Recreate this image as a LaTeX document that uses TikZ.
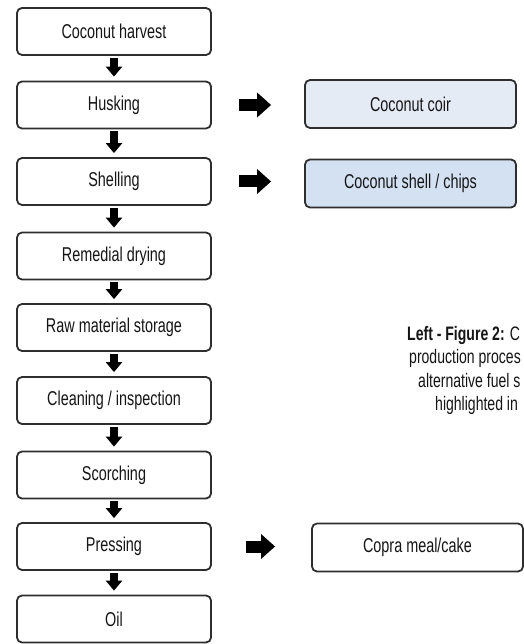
\documentclass[tikz,border=0pt]{standalone}
\usepackage{fontspec}
\setmainfont{Liberation Sans}[FakeStretch=0.72]
\usepackage{xcolor}
\usepackage{tikz}
\usetikzlibrary{calc,arrows.meta}

\definecolor{boxline}{HTML}{2E2E2E}
\definecolor{coirfill}{HTML}{E4EBF5}
\definecolor{shellfill}{HTML}{D4E1F2}
\definecolor{txt}{HTML}{151515}

\tikzset{
    stagebox/.style={draw=boxline, line width=1.8pt, rounded corners=5pt, fill=white,
        minimum width=194pt, minimum height=47pt, inner sep=0pt, text=txt,
        font=\fontsize{20}{24}\selectfont},
    outbox/.style={stagebox, minimum width=211pt, minimum height=48pt},
    downarrow/.style={line width=8pt, -{Triangle[length=10pt,width=16pt]},
        shorten <=2pt, shorten >=4pt},
    sidearrow/.style={line width=12pt, -{Triangle[length=14pt,width=24pt]}},
    captext/.style={anchor=base west, inner sep=0pt, text=txt,
        font=\fontsize{19.5}{23}\selectfont}
}

\begin{document}
\begin{tikzpicture}[x=1pt, y=-1pt]
        \useasboundingbox (0,0) rectangle (523,644);
        % process steps
        \node[stagebox] (harvest) at (114,31.5) {Coconut harvest};
        \node[stagebox] (husk) at (114,105) {Husking};
        \node[stagebox] (shell) at (114,181.5) {Shelling};
        \node[stagebox] (dry) at (114,256) {Remedial drying};
        \node[stagebox] (store) at (114,327.5) {Raw material storage};
        \node[stagebox] (clean) at (114,400.5) {Cleaning / inspection};
        \node[stagebox] (scorch) at (114,475) {Scorching};
        \node[stagebox] (press) at (114,546.5) {Pressing};
        \node[stagebox] (oil) at (114,619) {Oil};
        % by-products
        \node[outbox, fill=coirfill] (coir) at (410.5,104) {Coconut coir};
        \node[outbox, fill=shellfill] (chips) at (410.5,183.5) {Coconut shell / chips};
        \node[outbox] (cake) at (417.5,547.5) {Copra meal/cake};
        % down arrows
        \draw[downarrow] (harvest) -- (husk);
        \draw[downarrow] (husk) -- (shell);
        \draw[downarrow] (shell) -- (dry);
        \draw[downarrow] (dry) -- (store);
        \draw[downarrow] (store) -- (clean);
        \draw[downarrow] (clean) -- (scorch);
        \draw[downarrow] (scorch) -- (press);
        \draw[downarrow] (press) -- (oil);
        % side arrows
        \draw[sidearrow, shorten <=27pt, shorten >=33pt] (husk) -- (husk -| coir.west);
        \draw[sidearrow, shorten <=27pt, shorten >=33pt] (shell) -- (shell -| chips.west);
        \draw[sidearrow, shorten <=34pt, shorten >=36pt] (press) -- (press -| cake.west);
        % caption (cut at the right edge)
        \node[captext] (cap1) at (407,340) {\textbf{Left - Figure 2:} C};
        \node[captext] (cap2) at (409,363.5) {production proces};
        \node[captext] (cap3) at (418,387) {alternative fuel s};
        \node[captext] (cap4) at (435,410.5) {highlighted in};
    \end{tikzpicture}
\end{document}
